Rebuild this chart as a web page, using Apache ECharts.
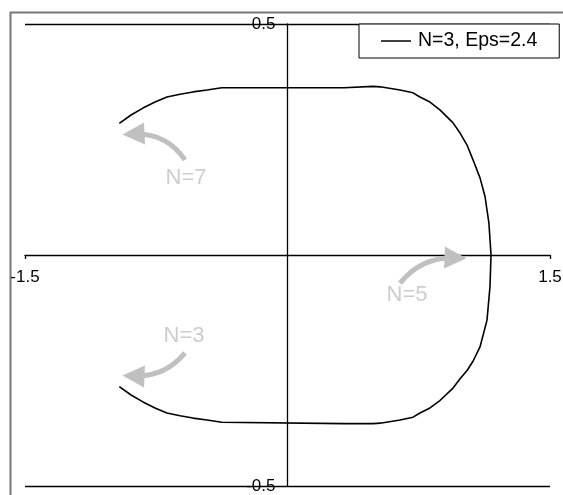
<!DOCTYPE html>
<html>
<head>
<meta charset="utf-8">
<script src="https://cdn.jsdelivr.net/npm/echarts@6/dist/echarts.min.js"></script>
<style>
  html, body { margin: 0; padding: 0; background: #fff; }
  #chart { width: 563px; height: 495px; }
</style>
</head>
<body>
<div id="chart"></div>
<script>
// Curve N=3, Eps=2.4 traced from the upper-left end, round the right side, to the lower-left end
const curveX = [
  -0.961, -0.894, -0.826, -0.757, -0.689, -0.614, -0.540, -0.460, -0.376,
  0.323, 0.323, 0.489, 0.529, 0.643, 0.717, 0.757, 0.814, 0.871, 0.946,
  0.986, 1.026, 1.060, 1.100, 1.129, 1.151, 1.163,
  1.157, 1.140, 1.100, 1.060, 1.026, 0.986, 0.946, 0.871, 0.814, 0.757,
  0.717, 0.643, 0.529, 0.489, 0.323, 0.323,
  -0.376, -0.460, -0.540, -0.614, -0.689, -0.757, -0.826, -0.894, -0.961
];
const curveY = [
  0.285, 0.303, 0.318, 0.331, 0.342, 0.348, 0.353, 0.357, 0.362,
  0.362, 0.365, 0.365, 0.364, 0.357, 0.351, 0.342, 0.331, 0.314, 0.286,
  0.264, 0.238, 0.206, 0.167, 0.126, 0.069, 0.000,
  -0.069, -0.141, -0.199, -0.230, -0.250, -0.268, -0.288, -0.315, -0.331, -0.342,
  -0.351, -0.357, -0.364, -0.365, -0.365, -0.362,
  -0.362, -0.357, -0.353, -0.348, -0.342, -0.331, -0.318, -0.303, -0.285
];

// Grey notes: label text and its position in data units
const noteText = ['N=7', 'N=3', 'N=5'];
const noteX = [-0.580, -0.591, 0.683];
const noteY = [0.167, -0.175, -0.087];

// Curved pointer arrows: start, head, bend
const arrowFrom = [[-0.586, 0.206], [-0.586, -0.212], [0.643, -0.061]];
const arrowTo = [[-0.880, 0.262], [-0.880, -0.262], [0.960, -0.006]];
const arrowBend = [-0.28, 0.25, 0.25];

const xTicks = { min: -1.5, max: 1.5, step: 3 };
const yTicks = { min: -0.5, max: 0.5, step: 1 };

const seriesName = 'N=3, Eps=2.4';
const grey = '#c0c0c0';
const font = 'Liberation Sans, Arial, sans-serif';

// Plot box in pixels; both axes are shifted to cross at the centre of it
const box = { left: 25, right: 13, top: 24, bottom: 9 };
const boxW = 563 - box.left - box.right;
const boxH = 495 - box.top - box.bottom;

const chart = echarts.init(document.getElementById('chart'), null, { renderer: 'canvas' });

chart.setOption({
  animation: false,
  backgroundColor: '#fff',
  grid: Object.assign({ containLabel: false, outerBoundsMode: 'none' }, box),
  graphic: [{
    type: 'rect',
    left: 8, top: 10,
    shape: { width: 600, height: 600 },
    style: { fill: 'none', stroke: '#777', lineWidth: 2 },
    silent: true,
    z: -1
  }],
  legend: {
    data: [seriesName],
    left: 359, top: 24,
    padding: [7, 22, 7, 22],
    borderColor: '#000', borderWidth: 1,
    backgroundColor: '#fff',
    icon: 'rect', itemWidth: 30, itemHeight: 1.5, itemGap: 0,
    textStyle: { fontFamily: font, fontSize: 19.5, color: '#000', padding: [0, 0, 0, 2] }
  },
  xAxis: {
    type: 'value',
    min: xTicks.min, max: xTicks.max, interval: xTicks.step,
    position: 'bottom',
    offset: -boxH / 2,
    axisLine: { onZero: false, lineStyle: { color: '#000', width: 1.3 } },
    axisTick: { show: true, length: 4, lineStyle: { color: '#000', width: 1.3 } },
    axisLabel: { margin: 14, fontFamily: font, fontSize: 17, color: '#000' },
    splitLine: { show: false }
  },
  yAxis: {
    type: 'value',
    min: yTicks.min, max: yTicks.max, interval: yTicks.step,
    position: 'left',
    offset: -boxW / 2,
    axisLine: { onZero: false, lineStyle: { color: '#000', width: 1.3 } },
    axisTick: { show: false },
    axisLabel: { margin: 12, fontFamily: font, fontSize: 17, color: '#000' },
    splitLine: { show: true, lineStyle: { color: '#000', width: 1.3 } }
  },
  series: [
    {
      name: seriesName,
      type: 'line',
      data: curveX.map((x, i) => [x, curveY[i]]),
      showSymbol: false,
      symbol: 'none',
      color: '#000',
      lineStyle: { color: '#000', width: 1.6 },
      z: 5
    },
    {
      name: 'arrows',
      type: 'lines',
      coordinateSystem: 'cartesian2d',
      data: arrowFrom.map((p, i) => ({
        coords: [p, arrowTo[i]],
        lineStyle: { curveness: arrowBend[i] }
      })),
      symbol: ['none', 'triangle'],
      symbolSize: [20, 22],
      lineStyle: { color: grey, width: 5, opacity: 1 },
      z: 3
    },
    {
      name: 'notes',
      type: 'scatter',
      data: noteX.map((x, i) => ({ name: noteText[i], value: [x, noteY[i]] })),
      symbolSize: 1,
      itemStyle: { color: 'rgba(0,0,0,0)' },
      label: {
        show: true, position: 'inside', formatter: '{b}',
        fontFamily: font, fontSize: 22, color: grey
      },
      z: 4
    }
  ]
});
</script>
</body>
</html>
